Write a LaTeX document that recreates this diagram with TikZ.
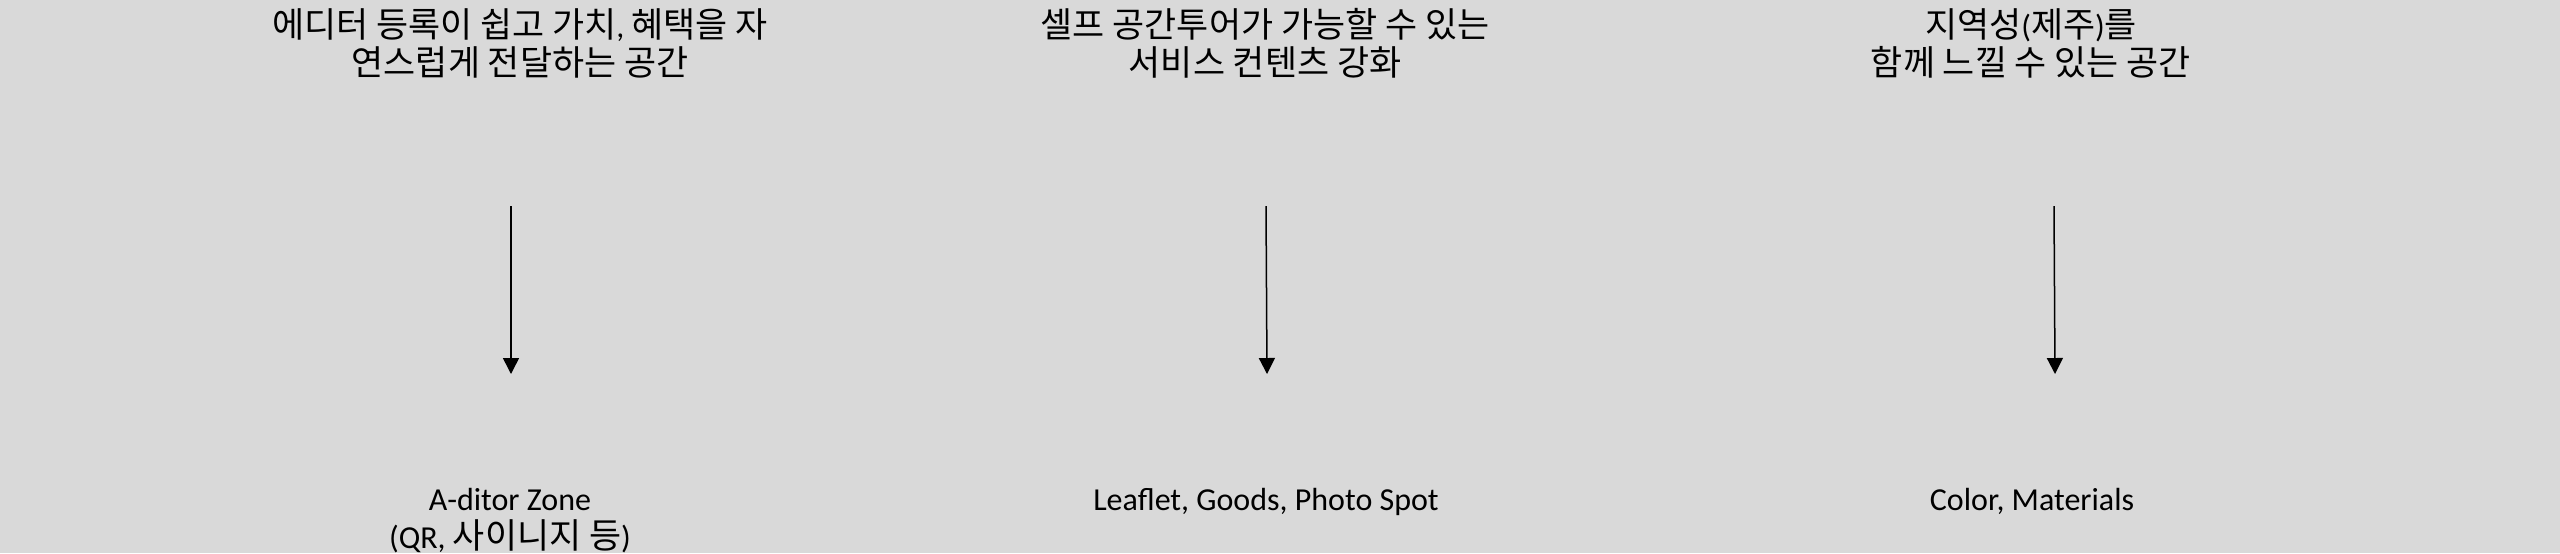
\documentclass[tikz,border=0pt]{standalone}
\usepackage{fontspec}
\setmainfont{Carlito}
\newfontfamily\kr[Scale=1.09]{Noto Sans CJK KR}
\usetikzlibrary{arrows.meta}
\definecolor{bg}{HTML}{D9D9D9}
\begin{document}
\begin{tikzpicture}[x=0.5pt,y=-0.5pt,
  lbl/.style={inner sep=0pt,align=center,anchor=base,font=\fontsize{16pt}{18.6pt}\selectfont,text=black},
  arr/.style={line width=0.75pt,-{Triangle[length=8pt,width=8pt]}}]
\fill[bg] (0,0) rectangle (2560,553);
\useasboundingbox (0,0) rectangle (2560,553);
% top labels (anchor = baseline of last line)
\node[lbl] (t1) at (520,75) {{\kr 에디터 등록이 쉽고 가치}, {\kr 혜택을 자}\\{\kr 연스럽게 전달하는 공간}};
\node[lbl] (t2) at (1265,75) {{\kr 셀프 공간투어가 가능할 수 있는}\\{\kr 서비스 컨텐츠 강화}};
\node[lbl] (t3) at (2031,75) {{\kr 지역성}({\kr 제주}){\kr 를}\\{\kr 함께 느낄 수 있는 공간}};
% bottom labels
\node[lbl] (b1) at (510,548) {A-ditor Zone\\(QR, {\kr 사이니지 등})};
\node[lbl] (b2) at (1266,510) {Leaflet, Goods, Photo Spot};
\node[lbl] (b3) at (2032,510) {Color, Materials};
% arrow ends
\coordinate (s1) at (511,206); \coordinate (e1) at (511,374);
\coordinate (s2) at (1266,206); \coordinate (e2) at (1267,374);
\coordinate (s3) at (2054,206); \coordinate (e3) at (2055,374);
\draw[arr] (s1) -- (e1);
\draw[arr] (s2) -- (e2);
\draw[arr] (s3) -- (e3);
\end{tikzpicture}
\end{document}
